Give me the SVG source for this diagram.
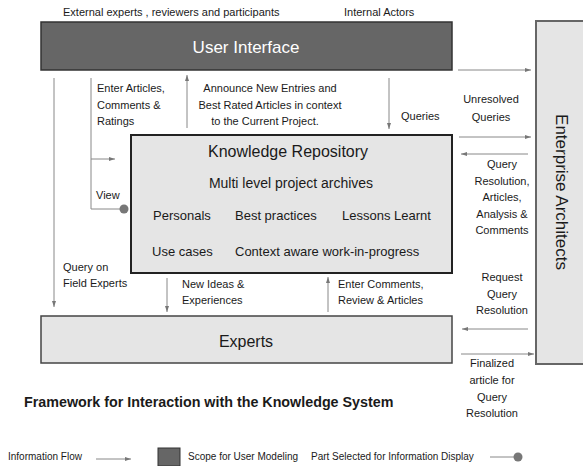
<svg xmlns="http://www.w3.org/2000/svg" width="583" height="466" viewBox="0 0 583 466">
  <defs>
    <marker id="arrow" viewBox="0 0 6 6" refX="6" refY="3" markerWidth="6" markerHeight="6" markerUnits="userSpaceOnUse" orient="auto">
      <path d="M0,1 L6,3 L0,5 z" fill="#777"/>
    </marker>
    <style>
      text { font-family: "Liberation Sans", Arial, sans-serif; fill: #1a1a1a; }
      .s { font-size: 11px; }
      .xs { font-size: 10px; }
      .m { font-size: 13px; }
      .c { text-anchor: middle; }
      .flow { stroke: #888; stroke-width: 1; fill: none; }
      .arr { marker-end: url(#arrow); }
      .light { fill: #e5e5e5; }
    </style>
  </defs>
  <rect width="583" height="466" fill="#ffffff"/>

  <!-- actor captions -->
  <text class="s" x="63" y="16">External experts , reviewers and participants</text>
  <text class="s" x="344" y="16">Internal Actors</text>

  <g id="user-interface">
    <rect x="41" y="22" width="411" height="48" fill="#666666" stroke="#333" stroke-width="1.5"/>
    <text x="246" y="53" class="c" style="font-size:17px;fill:#ffffff">User Interface</text>
  </g>

  <g id="enterprise-architects">
    <rect x="536" y="21" width="52" height="343" class="light" stroke="#666" stroke-width="2"/>
    <text transform="translate(556,192) rotate(90)" class="c" style="font-size:17px">Enterprise Architects</text>
  </g>

  <g id="knowledge-repository">
    <rect x="131" y="135" width="321" height="138" class="light" stroke="#222" stroke-width="2"/>
    <text x="288" y="157" class="c" style="font-size:16px">Knowledge Repository</text>
    <text x="291" y="188" class="c" style="font-size:14px">Multi level project archives</text>
    <text x="153" y="220" class="m">Personals</text>
    <text x="235" y="220" class="m">Best practices</text>
    <text x="342" y="220" class="m">Lessons Learnt</text>
    <text x="152" y="256" class="m">Use cases</text>
    <text x="235" y="256" class="m">Context aware work-in-progress</text>
  </g>

  <g id="experts">
    <rect x="41" y="316" width="411" height="47" class="light" stroke="#444" stroke-width="1.5"/>
    <text x="246" y="347" class="c" style="font-size:16px">Experts</text>
  </g>

  <g id="connectors">
    <!-- user interface to enterprise architects -->
    <line class="flow arr" x1="458" y1="70" x2="531" y2="70"/>
    <!-- query on field experts -->
    <line class="flow arr" x1="54" y1="78" x2="54" y2="307"/>
    <!-- enter articles bracket into the repository -->
    <polyline class="flow" points="91,78 91,209 124,209"/>
    <line class="flow arr" x1="91" y1="159" x2="115" y2="159"/>
    <circle cx="124" cy="209" r="4.5" fill="#777"/>
    <!-- announce new entries -->
    <line class="flow arr" x1="187" y1="128" x2="187" y2="75"/>
    <!-- queries -->
    <line class="flow arr" x1="389" y1="78" x2="389" y2="129"/>
    <!-- unresolved queries / query resolution -->
    <line class="flow arr" x1="459" y1="137" x2="531" y2="137"/>
    <line class="flow arr" x1="528" y1="154" x2="461" y2="154"/>
    <!-- repository and experts -->
    <line class="flow arr" x1="167" y1="278" x2="167" y2="312"/>
    <line class="flow arr" x1="328" y1="312" x2="328" y2="277"/>
    <!-- request query resolution / finalized article -->
    <line class="flow arr" x1="528" y1="329" x2="462" y2="329"/>
    <line class="flow arr" x1="461" y1="354" x2="534" y2="354"/>
  </g>

  <!-- connector labels -->
  <g id="labels" class="s">
    <text x="97" y="92">Enter Articles,</text>
    <text x="97" y="109">Comments &amp;</text>
    <text x="97" y="125">Ratings</text>
    <text x="270" y="92" class="c">Announce New Entries and</text>
    <text x="270" y="109" class="c">Best Rated Articles in context</text>
    <text x="265" y="125" class="c">to the Current Project.</text>
    <text x="401" y="120">Queries</text>
    <text x="491" y="103" class="c">Unresolved</text>
    <text x="491" y="121" class="c">Queries</text>
    <text x="502" y="168" class="c">Query</text>
    <text x="502" y="185" class="c">Resolution,</text>
    <text x="502" y="201" class="c">Articles,</text>
    <text x="502" y="218" class="c">Analysis &amp;</text>
    <text x="502" y="234" class="c">Comments</text>
    <text x="96" y="199">View</text>
    <text x="63" y="271">Query on</text>
    <text x="63" y="287">Field Experts</text>
    <text x="182" y="288">New Ideas &amp;</text>
    <text x="182" y="304">Experiences</text>
    <text x="338" y="288">Enter Comments,</text>
    <text x="338" y="304">Review &amp; Articles</text>
    <text x="502" y="281" class="c">Request</text>
    <text x="502" y="298" class="c">Query</text>
    <text x="502" y="314" class="c">Resolution</text>
    <text x="492" y="367" class="c">Finalized</text>
    <text x="492" y="384" class="c">article for</text>
    <text x="492" y="401" class="c">Query</text>
    <text x="492" y="417" class="c">Resolution</text>
  </g>

  <!-- title -->
  <text x="24" y="407" style="font-size:14.3px;font-weight:bold">Framework for Interaction with the Knowledge System</text>

  <!-- legend -->
  <g id="legend" class="xs">
    <text x="8" y="460">Information Flow</text>
    <line class="flow arr" x1="96" y1="459" x2="131" y2="459"/>
    <rect x="158" y="448" width="22" height="18" fill="#666666" stroke="#333" stroke-width="1"/>
    <text x="188" y="460">Scope for User Modeling</text>
    <text x="311" y="460">Part Selected for Information Display</text>
    <line class="flow" x1="490" y1="457" x2="518" y2="457"/>
    <circle cx="518" cy="457" r="4.5" fill="#777"/>
  </g>
</svg>
